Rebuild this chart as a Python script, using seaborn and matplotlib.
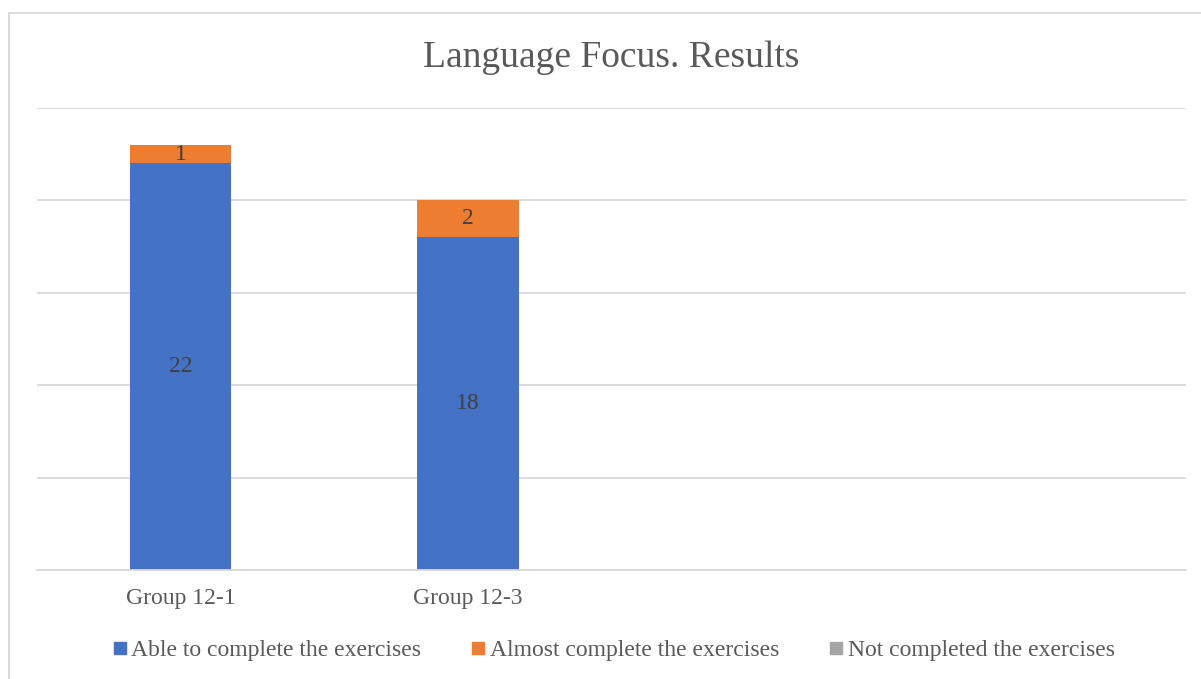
import matplotlib
matplotlib.use("Agg")
import matplotlib.pyplot as plt
from matplotlib.lines import Line2D
import seaborn as sns
import pandas as pd

# Chart data
groups = ["Group 12-1", "Group 12-3"]
able = [22, 18]
almost = [1, 2]
not_completed = [0, 0]
series_names = ["Able to complete the exercises",
                "Almost complete the exercises",
                "Not completed the exercises"]
colors = ["#4472C4", "#ED7D31", "#A5A5A5"]

sns.set_theme(style="white")
plt.rcParams["font.family"] = ["Liberation Serif", "DejaVu Serif"]

df = pd.DataFrame({"group": groups, "able": able, "almost": almost,
                   "not_completed": not_completed})
df["cum_almost"] = df["able"] + df["almost"]
df["cum_not"] = df["cum_almost"] + df["not_completed"]

fig = plt.figure(figsize=(12.01, 6.79), dpi=100)
ax = fig.add_axes([37 / 1201, 1 - 570 / 679, (1186 - 37) / 1201, (570 - 108) / 679])

bar_w = 0.353
# stacked bars: draw cumulative totals from top series down
sns.barplot(data=df, x="group", y="cum_not", color=colors[2], width=bar_w,
            saturation=1, ax=ax, linewidth=0)
sns.barplot(data=df, x="group", y="cum_almost", color=colors[1], width=bar_w,
            saturation=1, ax=ax, linewidth=0)
sns.barplot(data=df, x="group", y="able", color=colors[0], width=bar_w,
            saturation=1, ax=ax, linewidth=0)

ax.set_xlim(-0.5, 3.5)
ax.set_ylim(0, 25)
ax.set_yticks([0, 5, 10, 15, 20, 25])
ax.set_yticklabels([])
ax.yaxis.grid(True, color="#D9D9D9", linewidth=1.3)
ax.set_axisbelow(True)
for side in ["left", "right", "top"]:
    ax.spines[side].set_visible(False)
ax.spines["bottom"].set_color("#D9D9D9")
ax.spines["bottom"].set_linewidth(1.3)
ax.set_xlabel("")
ax.set_ylabel("")
ax.tick_params(axis="x", length=0, pad=13, labelsize=17, labelcolor="#595959")
ax.tick_params(axis="y", length=0)

# segment value labels
for i in range(len(groups)):
    ax.text(i, able[i] / 2, str(able[i]), ha="center", va="center",
            fontsize=17, color="#404040")
    ax.text(i, able[i] + almost[i] / 2, str(almost[i]), ha="center", va="center",
            fontsize=17, color="#404040")

fig.text(0.5085, 1 - 58 / 679, "Language Focus. Results", ha="center", va="center",
         fontsize=27, color="#595959")

handles = [Line2D([], [], marker="s", linestyle="none", markersize=8,
                  markerfacecolor=c, markeredgecolor=c) for c in colors]
fig.legend(handles, series_names, loc="center", bbox_to_anchor=(0.511, 1 - 650 / 679),
           ncol=3, frameon=False, fontsize=17, labelcolor="#595959",
           handlelength=0.6, handletextpad=0.2, columnspacing=2.1)

# chart frame: left and top edges (the rest runs off the canvas)
x0 = 8.5 / 1201
y0 = 1 - 12.5 / 679
fig.add_artist(Line2D([x0, x0], [0, y0], transform=fig.transFigure,
                      color="#D9D9D9", linewidth=1.3))
fig.add_artist(Line2D([x0, 1], [y0, y0], transform=fig.transFigure,
                      color="#D9D9D9", linewidth=1.3))

fig.savefig("out.png", dpi=100)
